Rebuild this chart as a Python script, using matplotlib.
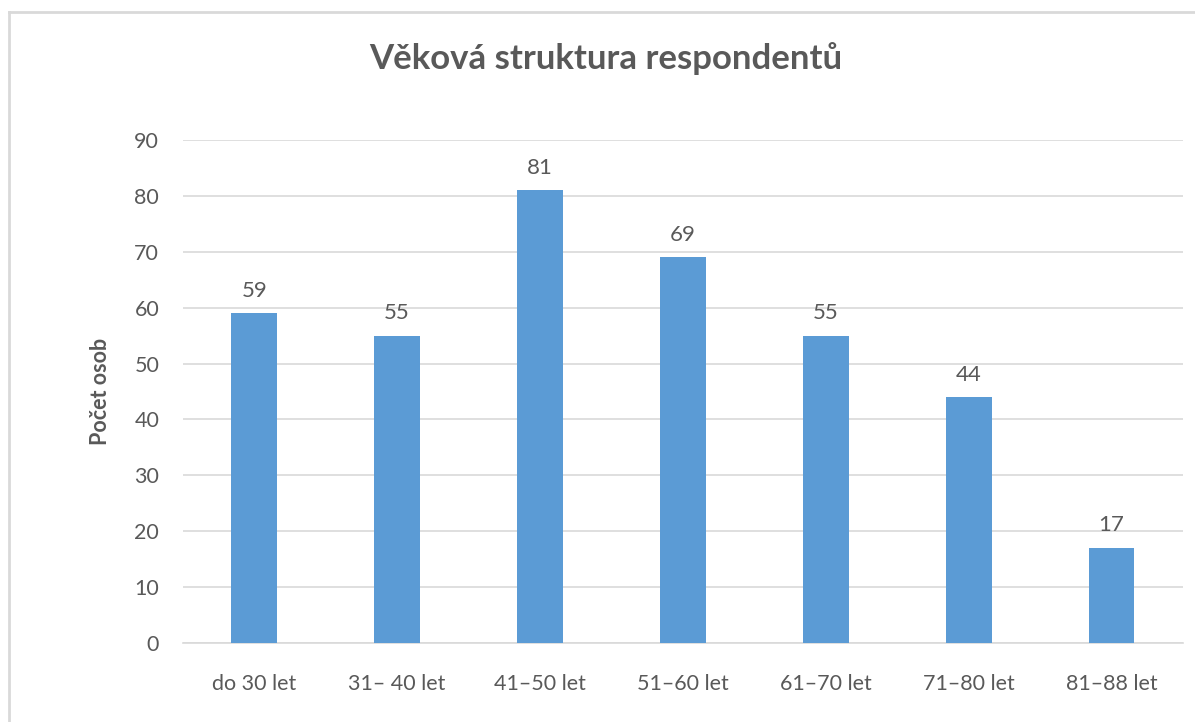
import matplotlib.pyplot as plt
import numpy as np

categories = ["do 30 let", "31\u2013 40 let", "41\u201350 let", "51\u201360 let",
              "61\u201370 let", "71\u201380 let", "81\u201388 let"]
values = [59, 55, 81, 69, 55, 44, 17]

plt.rcParams['font.family'] = ['Lato', 'DejaVu Sans']
text_col = '#595959'

fig = plt.figure(figsize=(11.95, 7.22), dpi=100)
ax = fig.add_axes([0.153, 0.1094, 0.837, 0.6967])

x = np.arange(len(categories))
bars = ax.bar(x, values, width=0.32, color='#5B9BD5', zorder=3)

for xi, v in zip(x, values):
    ax.annotate(str(v), (xi, v), xytext=(0, 9), textcoords='offset points',
                ha='center', va='bottom', fontsize=16, color=text_col)

ax.set_xlim(-0.5, len(categories) - 0.5)
ax.set_ylim(0, 90)
ax.set_yticks(range(0, 91, 10))
ax.set_xticks(x)
ax.set_xticklabels(categories)
ax.tick_params(axis='both', length=0, labelsize=15.5, labelcolor=text_col)
ax.tick_params(axis='y', pad=17)
ax.tick_params(axis='x', pad=22)
ax.grid(axis='y', color='#D9D9D9', linewidth=1.2, zorder=0)
for s in ['top', 'right', 'left']:
    ax.spines[s].set_visible(False)
ax.spines['bottom'].set_color('#D9D9D9')
ax.spines['bottom'].set_linewidth(1.2)

ax.set_ylabel("Počet osob", fontsize=15.5, fontweight='bold', color=text_col, labelpad=17)
fig.text(0.507, 0.919, "Věková struktura respondentů", ha='center', va='center',
         fontsize=25, fontweight='bold', color=text_col)

# outer chart frame (left and top edges visible)
fig.add_artist(plt.Line2D([0.0075, 0.0075], [0, 0.983], color='#D9D9D9', lw=2))
fig.add_artist(plt.Line2D([0.0075, 1.0], [0.983, 0.983], color='#D9D9D9', lw=2))

fig.savefig("out.png", dpi=100)
